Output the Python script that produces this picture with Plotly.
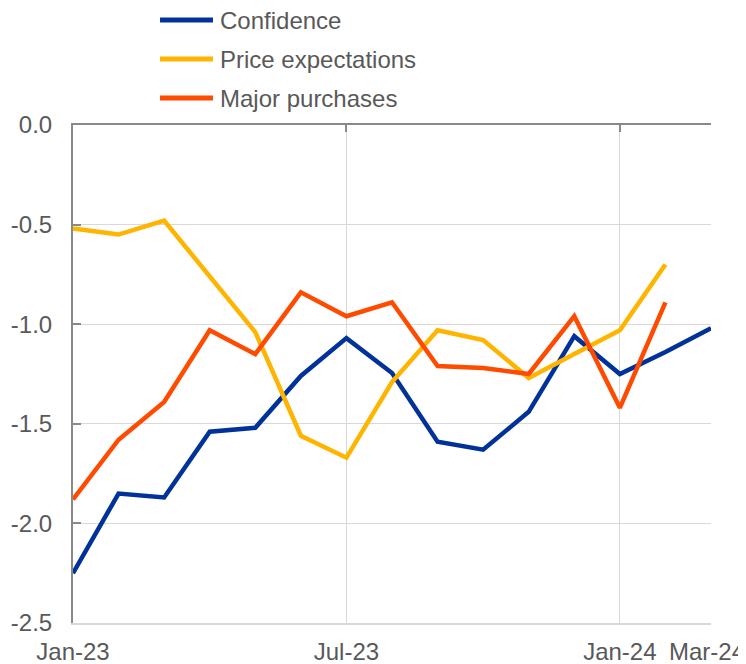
import plotly.graph_objects as go

months = ["Jan-23", "Feb-23", "Mar-23", "Apr-23", "May-23", "Jun-23", "Jul-23",
          "Aug-23", "Sep-23", "Oct-23", "Nov-23", "Dec-23", "Jan-24", "Feb-24", "Mar-24"]

confidence = [-2.25, -1.85, -1.87, -1.54, -1.52, -1.26, -1.07, -1.245, -1.59, -1.63,
              -1.44, -1.06, -1.25, -1.14, -1.02]
price_expectations = [-0.52, -0.55, -0.48, -0.76, -1.04, -1.56, -1.67, -1.29, -1.03, -1.08,
                      -1.27, -1.15, -1.03, -0.70, None]
major_purchases = [-1.88, -1.58, -1.39, -1.03, -1.15, -0.84, -0.96, -0.89, -1.21, -1.22,
                   -1.25, -0.96, -1.42, -0.89, None]

x_tickvals = ["Jan-23", "Jul-23", "Jan-24", "Mar-24"]
x_ticktext = ["Jan-23", "Jul-23", "Jan-24", ""]   # last label drawn below, nudged inside
last_label = "Mar-24"
y_tickvals = [0.0, -0.5, -1.0, -1.5, -2.0, -2.5]
y_ticktext = ["0.0", "-0.5", "-1.0", "-1.5", "-2.0", "-2.5"]

series = [
    ("Confidence", confidence, "#003299", "x"),
    ("Price expectations", price_expectations, "#FFB400", "x"),
    ("Major purchases", major_purchases, "#FF4B00", "x2"),
]

font_color = "#595959"
axis_gray = "#898989"
FONT = "Liberation Sans, Arial, sans-serif"

fig = go.Figure()
for name, vals, color, xax in series:
    fig.add_trace(go.Scatter(
        x=months, y=vals, name=name, mode="lines",
        line=dict(color=color, width=4.5),
        connectgaps=False, showlegend=False, xaxis=xax, yaxis="y",
    ))

# Manual legend (line swatch + label) placed above the plot area, in paper coords
legend_rows_y = [1.2108, 1.1325, 1.0542]
for (name, _, color, _), ly in zip(series, legend_rows_y):
    fig.add_shape(type="line", xref="paper", yref="paper",
                  x0=0.1364, x1=0.2194, y0=ly, y1=ly,
                  line=dict(color=color, width=5), layer="above")
    fig.add_annotation(xref="paper", yref="paper", x=0.2273, y=ly,
                       text=name, showarrow=False, xanchor="left", yanchor="middle",
                       font=dict(family=FONT, size=24, color=font_color))

# last x tick label, kept inside the page
fig.add_annotation(xref="x", yref="paper", x=last_label, y=0,
                   text=last_label, showarrow=False, xanchor="center", yanchor="middle",
                   xshift=-4, yshift=-28,
                   font=dict(family=FONT, size=24, color=font_color))

# page body has an 8px margin, so the figure is 8px smaller than the window
fig.update_layout(
    width=738, height=656,
    margin=dict(l=65, r=35, t=117, b=41, autoexpand=False),
    paper_bgcolor="white", plot_bgcolor="white",
    font=dict(family=FONT, size=24, color=font_color),
    showlegend=False,
    xaxis=dict(
        type="category", categoryorder="array", categoryarray=months,
        range=[0, len(months) - 1],
        tickmode="array", tickvals=x_tickvals, ticktext=x_ticktext,
        tickangle=0, automargin=False,
        showgrid=True, gridcolor="#d9d9d9", gridwidth=1,
        showline=True, linecolor="#d9d9d9", linewidth=2,
        ticks="", ticklabelstandoff=6,
        tickfont=dict(family=FONT, size=24, color=font_color),
    ),
    xaxis2=dict(
        type="category", categoryorder="array", categoryarray=months,
        range=[0, len(months) - 1], overlaying="x", side="top", anchor="y",
        tickmode="array", tickvals=x_tickvals,
        showticklabels=False, showgrid=False, automargin=False,
        showline=True, linecolor=axis_gray, linewidth=2,
        ticks="inside", ticklen=7, tickwidth=2, tickcolor=axis_gray,
    ),
    yaxis=dict(
        range=[-2.5, 0.0], automargin=False,
        tickmode="array", tickvals=y_tickvals, ticktext=y_ticktext,
        showgrid=True, gridcolor="#d9d9d9", gridwidth=1,
        zeroline=False,
        showline=True, linecolor=axis_gray, linewidth=2,
        ticks="inside", ticklen=8, tickcolor=axis_gray, tickwidth=2,
        ticklabelstandoff=14,
        tickfont=dict(family=FONT, size=24, color=font_color),
    ),
)

fig.write_html("out.html")
